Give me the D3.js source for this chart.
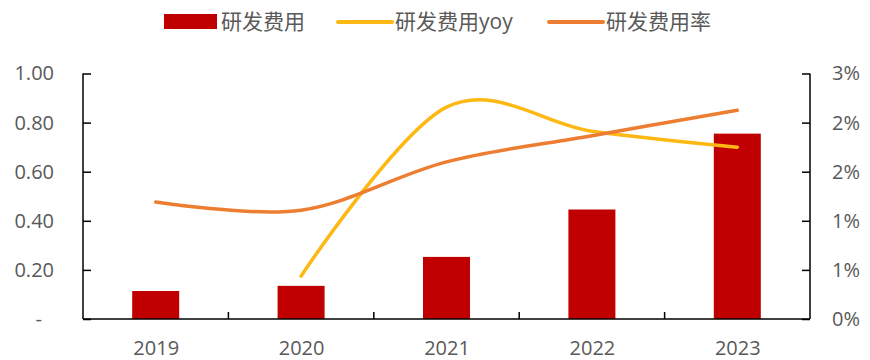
<!DOCTYPE html>
<html>
<head>
<meta charset="utf-8">
<script src="https://cdn.jsdelivr.net/npm/d3@7"></script>
<style>
  body { margin: 0; background: #fff; }
  svg text { font-family: "Open Sans", "Noto Sans CJK SC", sans-serif; fill: #595959; }
</style>
</head>
<body>
<div id="root"></div>
<script>
const years = ['2019', '2020', '2021', '2022', '2023'];
const rdExpense = [0.114, 0.135, 0.253, 0.446, 0.755];
const rdYoy = [null, 0.175, 0.863, 0.765, 0.70];
const rdRate = [0.0143, 0.0133, 0.0192, 0.0224, 0.0255];
const leftTicks = [0, 0.2, 0.4, 0.6, 0.8, 1.0];
const rightTicks = [0, 0.006, 0.012, 0.018, 0.024, 0.03];
const seriesNames = ['研发费用', '研发费用yoy', '研发费用率'];

const width = 870;
const height = 360;
const margin = { top: 73.5, right: 60, bottom: 41, left: 83 };
const colors = { bar: '#C00000', yoy: '#FDB813', rate: '#ED7D31' };

const svg = d3.select('#root').append('svg')
  .attr('width', width)
  .attr('height', height);

const chartWidth = width - margin.left - margin.right;
const chartHeight = height - margin.top - margin.bottom;

const chart = svg.append('g')
  .attr('transform', `translate(${margin.left}, ${margin.top})`);

const band = d3.scaleBand().domain(years).range([0, chartWidth]);
const xCenter = d => band(d) + band.bandwidth() / 2;

const yLeft = d3.scaleLinear().domain([0, 1]).range([chartHeight, 0]);
const yRight = d3.scaleLinear().domain([0, 0.03]).range([chartHeight, 0]);

// bars
chart.selectAll('rect.bar')
  .data(years.map((y, i) => ({ year: y, value: rdExpense[i] })))
  .enter()
  .append('rect')
  .attr('class', 'bar')
  .attr('x', d => xCenter(d.year) - 23.5)
  .attr('y', d => yLeft(d.value))
  .attr('width', 47)
  .attr('height', d => chartHeight - yLeft(d.value))
  .attr('fill', colors.bar);

// axes
const axisLeft = d3.axisLeft(yLeft)
  .tickValues(leftTicks)
  .tickSize(-8)
  .tickPadding(29)
  .tickFormat(d => d === 0 ? '-' : d3.format('.2f')(d));

const gl = chart.append('g').call(axisLeft);
gl.select('.tick:first-of-type text').attr('dx', -12);

const axisRight = d3.axisRight(yRight)
  .tickValues(rightTicks)
  .tickSize(-8)
  .tickPadding(22)
  .tickFormat(d3.format('.0%'));

const gr = chart.append('g')
  .attr('transform', `translate(${chartWidth}, 0)`)
  .call(axisRight);

const axisBottom = d3.axisBottom(d3.scalePoint().domain(years).range([xCenter(years[0]), xCenter(years[4])]))
  .tickSize(0)
  .tickPadding(22);

const gb = chart.append('g')
  .attr('transform', `translate(0, ${chartHeight})`)
  .call(axisBottom);
gb.select('.domain').remove();

// category separator ticks
chart.append('g')
  .selectAll('line')
  .data(years.slice(1))
  .enter()
  .append('line')
  .attr('x1', d => band(d))
  .attr('x2', d => band(d))
  .attr('y1', chartHeight)
  .attr('y2', chartHeight - 7)
  .attr('stroke', '#000')
  .attr('stroke-width', 1.5);

chart.append('line')
  .attr('x1', 0).attr('x2', chartWidth)
  .attr('y1', chartHeight).attr('y2', chartHeight)
  .attr('stroke', '#000').attr('stroke-width', 1.5);

[gl, gr].forEach(g => {
  g.selectAll('.domain').remove();
  g.selectAll('line').attr('stroke', '#000').attr('stroke-width', 1.5);
  g.selectAll('text').style('font-size', '20px').attr('fill', '#595959');
  g.append('line').attr('x1', 0).attr('x2', 0).attr('y1', 0).attr('y2', chartHeight)
    .attr('stroke', '#000').attr('stroke-width', 1.5);
});
gr.selectAll('text').attr('text-anchor', 'start');
gb.selectAll('text').style('font-size', '20px').attr('fill', '#595959');

// lines
const yoyLine = d3.line()
  .x(d => xCenter(d.year))
  .y(d => yLeft(d.v))
  .curve(d3.curveCardinal.tension(0));

chart.append('path')
  .datum(years.map((y, i) => ({ year: y, v: rdYoy[i] })).filter(d => d.v !== null))
  .attr('d', yoyLine)
  .attr('fill', 'none')
  .attr('stroke', colors.yoy)
  .attr('stroke-width', 3.5)
  .attr('stroke-linecap', 'round');

const rateLine = d3.line()
  .x(d => xCenter(d.year))
  .y(d => yRight(d.v))
  .curve(d3.curveCardinal.tension(0));

chart.append('path')
  .datum(years.map((y, i) => ({ year: y, v: rdRate[i] })))
  .attr('d', rateLine)
  .attr('fill', 'none')
  .attr('stroke', colors.rate)
  .attr('stroke-width', 3.5)
  .attr('stroke-linecap', 'round');

// legend
const legend = svg.append('g').attr('transform', 'translate(0, 21)');
const legendItems = [
  { name: seriesNames[0], type: 'rect', color: colors.bar, x: 164 },
  { name: seriesNames[1], type: 'line', color: colors.yoy, x: 338 },
  { name: seriesNames[2], type: 'line', color: colors.rate, x: 549 },
];
legendItems.forEach(d => {
  if (d.type === 'rect') {
    legend.append('rect').attr('x', d.x).attr('y', -7).attr('width', 53).attr('height', 15).attr('fill', d.color);
  } else {
    legend.append('line').attr('x1', d.x).attr('x2', d.x + 54).attr('y1', 1).attr('y2', 1)
      .attr('stroke', d.color).attr('stroke-width', 4).attr('stroke-linecap', 'round');
  }
  legend.append('text')
    .attr('x', d.x + 57)
    .attr('y', 8)
    .style('font-size', '21px')
    .text(d.name);
});
</script>
</body>
</html>
